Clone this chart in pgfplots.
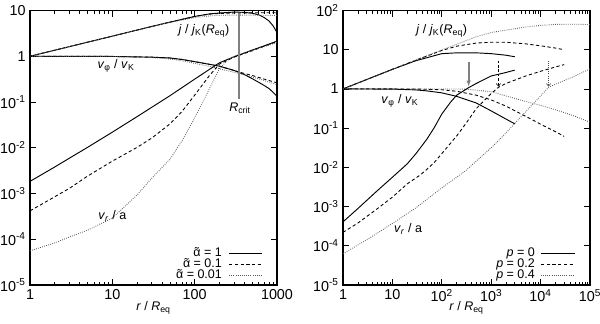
\documentclass[border=0pt]{standalone}
\usepackage{fontspec}
\setmainfont{Liberation Sans}
\usepackage{pgfplots}
\pgfplotsset{compat=1.18}
\usetikzlibrary{arrows.meta}
\newcommand{\sub}[1]{\textsubscript{#1}}
\newcommand{\atil}{\ooalign{α\cr\hidewidth\char"02DC\hidewidth\cr}}
\tikzset{
  sol/.style={black, line width=0.75pt},
  dsh/.style={black, line width=0.7pt, dash pattern=on 2.6pt off 2pt},
  dot/.style={black!65, line width=0.7pt, dash pattern=on 0.6pt off 1.1pt},
}
\begin{document}
\begin{tikzpicture}
% ---------------- left panel ----------------
\begin{axis}[at={(0,0)}, anchor=south west,
    scale only axis, width=197.6pt, height=219.6pt,
    xmode=log, ymode=log,
    axis line style={line width=0.9pt},
    tick style={line width=0.5pt, black},
    major tick length=5pt, minor tick length=2.5pt,
    yminorticks=false,
    tick align=inside,
    tick label style={font=\fontsize{11.5}{13}\selectfont},
    xlabel={\textit{r} / \textit{R}\sub{eq}},
    xlabel style={at={(axis description cs:0.5,-0.045)}, anchor=north},
    legend style={draw=none, fill=none, at={(0.94,0.014)}, anchor=south east,
      inner sep=0pt, outer sep=0pt, row sep=0pt, column sep=5.5pt,
      nodes={inner sep=0pt, text height=7pt, text depth=1.8pt}},
    legend image code/.code={\draw[#1] (0pt,0pt) -- (26pt,0pt);},
    legend cell align=right,
    legend plot pos=right,
  xmin=1, xmax=1000, ymin=1e-5, ymax=10,
  xtick={1,10,100,1000}, xticklabels={1,10,100,1000},
  ytick={1e-5,1e-4,1e-3,1e-2,0.1,1,10},
  yticklabels={10\textsuperscript{-5},10\textsuperscript{-4},10\textsuperscript{-3},10\textsuperscript{-2},10\textsuperscript{-1},1,10},
]
\addplot[sol] coordinates {(1,1) (10,2.75) (30,4.47) (50,5.56) (100,7.41) (150,8.41) (200,8.81) (300,9.23) (400,9.12) (500,8.71) (600,8.04) (700,7.0) (800,5.89) (900,4.57) (1000,3.31)};
\addlegendentry{\atil{} = 1}
\addplot[dsh] coordinates {(1,1) (10,2.75) (30,4.47) (50,5.56) (100,7.41) (150,8.32) (200,8.61) (300,8.81) (500,8.91) (1000,8.91)};
\addlegendentry{\atil{} = 0.1}
\addplot[dot] coordinates {(1,1) (10,2.75) (30,4.45) (50,5.5) (100,7.0) (150,7.59) (200,7.85) (300,7.94) (500,7.94) (1000,7.76)};
\addlegendentry{\atil{} = 0.01}
% v_phi / v_K
\addplot[sol, forget plot] coordinates {(1,1) (10,0.99) (30,0.955) (50,0.916) (70,0.851) (100,0.762) (150,0.668) (200,0.607) (300,0.49) (400,0.398) (500,0.324) (600,0.269) (700,0.229) (800,0.197) (900,0.162) (1000,0.133)};
\addplot[dsh, forget plot] coordinates {(1,1) (10,0.99) (30,0.955) (50,0.916) (70,0.851) (100,0.762) (150,0.668) (200,0.607) (300,0.49) (400,0.42) (500,0.38) (700,0.316) (1000,0.263)};
\addplot[dot, forget plot] coordinates {(1,1) (10,0.99) (30,0.938) (50,0.871) (70,0.794) (100,0.70) (150,0.603) (200,0.531) (300,0.447) (500,0.355) (700,0.295) (1000,0.24)};
% v_r / a
\addplot[sol, forget plot] coordinates {(1,1.84e-3) (2,3.8e-3) (3,5.9e-3) (5,0.0102) (10,0.0219) (20,0.0479) (50,0.137) (100,0.316) (200,0.72) (300,0.97) (500,1.365) (700,1.69) (1000,2.14)};
\addplot[dsh, forget plot] coordinates {(1,4.17e-4) (2,8.5e-4) (3,1.29e-3) (5,2.4e-3) (10,5.1e-3) (20,0.0102) (30,0.0162) (50,0.0331) (70,0.0617) (100,0.141) (150,0.372) (200,0.676) (300,0.955) (500,1.318) (700,1.66) (1000,2.09)};
\addplot[dot, forget plot] coordinates {(1,5.6e-5) (2,8.3e-5) (3,1.12e-4) (5,1.58e-4) (10,2.9e-4) (15,5.75e-4) (20,9.3e-4) (30,2.14e-3) (50,5.6e-3) (70,0.0141) (100,0.0447) (150,0.19) (200,0.537) (250,0.81) (300,1.0) (500,1.35) (700,1.62) (1000,2.0)};
% R_crit
\addplot[gray, line width=1.4pt, forget plot] coordinates {(347,9.0) (347,0.115)};
\node at (axis cs:130,3.55) {\textit{j} / \textit{j}\sub{K}(\textit{R}\sub{eq})};
\node at (axis cs:11.1,0.61) {\textit{v}\sub{φ} / \textit{v}\sub{K}};
\node at (axis cs:355,0.074) {\textit{R}\sub{crit}};
\node at (axis cs:10,3.2e-4) {\textit{v}\sub{\textit{r}} / a};
\end{axis}
% ---------------- right panel ----------------
\begin{axis}[at={(250.4pt,0)}, anchor=south west,
    scale only axis, width=197.6pt, height=219.6pt,
    xmode=log, ymode=log,
    axis line style={line width=0.9pt},
    tick style={line width=0.5pt, black},
    major tick length=5pt, minor tick length=2.5pt,
    yminorticks=false,
    tick align=inside,
    tick label style={font=\fontsize{11.5}{13}\selectfont},
    xlabel={\textit{r} / \textit{R}\sub{eq}},
    xlabel style={at={(axis description cs:0.5,-0.045)}, anchor=north},
    legend style={draw=none, fill=none, at={(0.94,0.014)}, anchor=south east,
      inner sep=0pt, outer sep=0pt, row sep=0pt, column sep=4.5pt,
      nodes={inner sep=0pt, text height=7pt, text depth=1.8pt}},
    legend image code/.code={\draw[#1] (0pt,0pt) -- (27pt,0pt);},
    legend cell align=right,
    legend plot pos=right,
  xmin=1, xmax=1e5, ymin=1e-5, ymax=100,
  xtick={1,10,100,1000,1e4,1e5},
  xticklabels={1,10,10\textsuperscript{2},10\textsuperscript{3},10\textsuperscript{4},10\textsuperscript{5}},
  ytick={1e-5,1e-4,1e-3,1e-2,0.1,1,10,100},
  yticklabels={10\textsuperscript{-5},10\textsuperscript{-4},10\textsuperscript{-3},10\textsuperscript{-2},10\textsuperscript{-1},1,10,10\textsuperscript{2}},
]
\addplot[sol] coordinates {(1,1) (10,3.16) (30,5.25) (100,7.94) (200,8.32) (500,8.32) (1000,7.94) (2000,7.24) (3000,6.61)};
\addlegendentry{\textit{p} = 0}
\addplot[dsh] coordinates {(1,1) (10,3.16) (30,5.43) (100,9.55) (200,12.3) (500,14.8) (1000,15.5) (2000,15.5) (5000,14.1) (10000,12.6) (20000,11.0) (30000,10.0)};
\addlegendentry{\textit{p} = 0.2}
\addplot[dot] coordinates {(1,1) (10,3.16) (30,5.48) (100,9.89) (200,13.8) (500,21.4) (1000,27.5) (2000,31.6) (5000,38.0) (10000,41.7) (20000,44.2) (50000,44.7) (100000,43.7)};
\addlegendentry{\textit{p} = 0.4}
% v_phi / v_K
\addplot[sol, forget plot] coordinates {(1,1) (10,0.99) (30,0.944) (50,0.891) (100,0.794) (200,0.646) (500,0.437) (1000,0.275) (2000,0.17) (3000,0.129)};
\addplot[dsh, forget plot] coordinates {(1,1) (10,1) (30,0.995) (100,0.955) (200,0.871) (500,0.692) (1000,0.525) (2000,0.363) (5000,0.2) (10000,0.126) (20000,0.0813) (30000,0.0617)};
\addplot[dot, forget plot] coordinates {(1,1) (100,0.998) (300,0.99) (1000,0.851) (2000,0.66) (5000,0.479) (10000,0.38) (20000,0.295) (50000,0.2) (100000,0.141)};
% v_r / a
\addplot[sol, forget plot] coordinates {(1,4.07e-4) (2,8.9e-4) (5,2.57e-3) (10,5.6e-3) (20,0.0123) (30,0.0224) (50,0.0525) (70,0.102) (100,0.229) (150,0.457) (200,0.692) (350,1.08) (500,1.38) (1000,2.14) (2000,2.63) (3000,3.02)};
\addplot[dsh, forget plot] coordinates {(1,2.2e-4) (2,3.8e-4) (5,8.9e-4) (10,1.74e-3) (20,3.8e-3) (36,6.3e-3) (50,8.9e-3) (70,0.0132) (100,0.0224) (200,0.0631) (300,0.126) (500,0.316) (1000,0.759) (1400,1.1) (2000,1.38) (5000,2.14) (10000,2.82) (20000,3.63) (30000,4.17)};
\addplot[dot, forget plot] coordinates {(1,6.3e-5) (3,1.41e-4) (10,3.7e-4) (30,9.3e-4) (100,3.0e-3) (300,8.1e-3) (1000,0.0316) (2000,0.0759) (5000,0.263) (10000,0.661) (14500,1.1) (20000,1.32) (50000,2.14) (100000,3.24)};
% sonic-point arrows
\addplot[gray, line width=1.4pt, -{Latex[length=5pt,width=3.5pt]}, forget plot] coordinates {(350,5.0) (350,1.12)};
\addplot[black, line width=0.5pt, dash pattern=on 2pt off 1.5pt, -{Straight Barb[length=2pt,width=3.5pt]}, forget plot] coordinates {(1400,5.25) (1400,1.15)};
\addplot[black!70, line width=0.5pt, dash pattern=on 0.6pt off 1.1pt, -{Straight Barb[length=2pt,width=3.5pt]}, forget plot] coordinates {(14500,5.25) (14500,1.15)};
\node at (axis cs:100,30) {\textit{j} / \textit{j}\sub{K}(\textit{R}\sub{eq})};
\node at (axis cs:14.2,0.5) {\textit{v}\sub{φ} / \textit{v}\sub{K}};
\node at (axis cs:20.8,2.7e-4) {\textit{v}\sub{\textit{r}} / a};
\end{axis}
\pgfresetboundingbox
\useasboundingbox (-24pt,-31.2pt) rectangle (456pt,228pt);
\end{tikzpicture}
\end{document}
